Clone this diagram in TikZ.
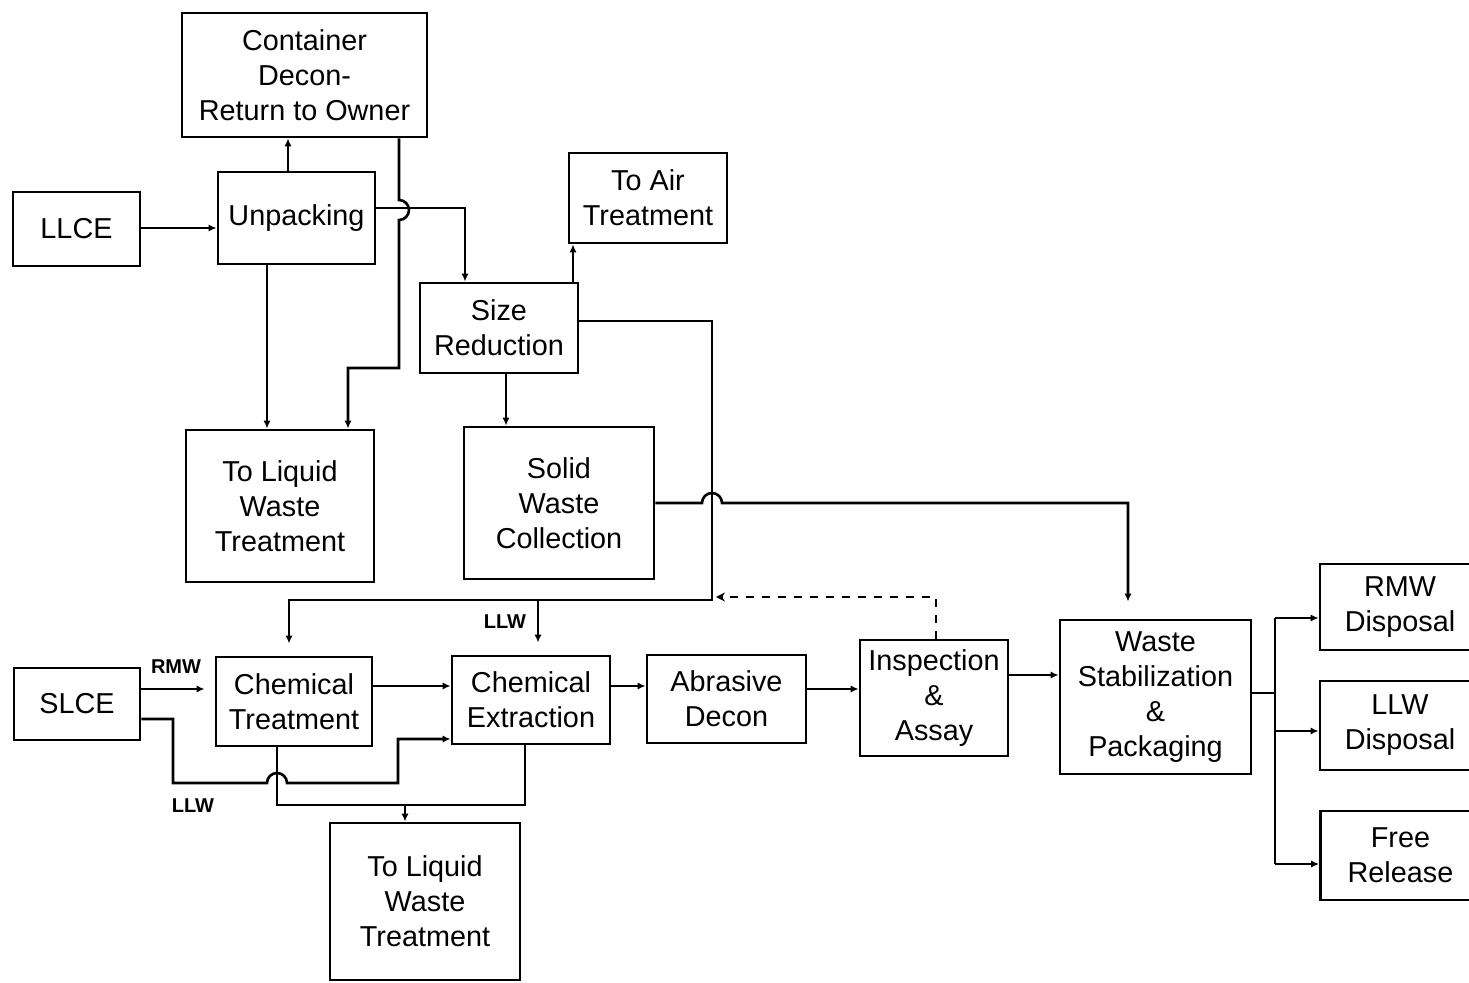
\documentclass[tikz,border=0pt]{standalone}
\usepackage{fontspec}
\setmainfont{Liberation Sans}
\usetikzlibrary{arrows.meta}
\begin{document}
\begin{tikzpicture}[x=0.5pt,y=-0.5pt,
  box/.style={draw, line width=1.4pt, inner sep=0pt, align=center,
    font=\fontsize{14.4}{17.5}\selectfont},
  lbl/.style={font=\fontsize{10}{12}\selectfont\bfseries, inner sep=0pt},
  conn/.style={line width=1.3pt},
  arr/.style={conn, -{Latex[length=4pt,width=3.6pt]}},
  darr/.style={conn, dash pattern=on 4pt off 4pt, -{Stealth[length=4.5pt,width=4.5pt]}}]
\useasboundingbox (0,0) rectangle (1469,983);
\fill[white] (0,0) rectangle (1469,983);

% boxes
\node[box, minimum width=122.5pt, minimum height=62pt] (cont) at (304.5,75) {Container\\Decon-\\Return to Owner};
\node[box, minimum width=63.5pt, minimum height=37pt] (llce) at (76.5,229) {LLCE};
\node[box, minimum width=78.5pt, minimum height=46pt] (unp) at (296.5,218) {Unpacking};
\node[box, minimum width=79pt, minimum height=45pt] (air) at (648,198) {To Air\\Treatment};
\node[box, minimum width=79pt, minimum height=45pt] (size) at (499,328) {Size\\Reduction};
\node[box, minimum width=94pt, minimum height=76pt] (liqa) at (280,506) {To Liquid\\Waste\\Treatment};
\node[box, minimum width=95pt, minimum height=76pt] (solid) at (559,503) {Solid\\Waste\\Collection};
\node[box, minimum width=63pt, minimum height=36pt] (slce) at (77,704) {SLCE};
\node[box, minimum width=78pt, minimum height=44.5pt] (ct) at (294,701.5) {Chemical\\Treatment};
\node[box, minimum width=79pt, minimum height=44pt] (ce) at (531,700) {Chemical\\Extraction};
\node[box, minimum width=79.5pt, minimum height=44pt] (ad) at (726.5,699) {Abrasive\\Decon};
\node[box, minimum width=74pt, minimum height=58pt] (ia) at (934,698) {Inspection\\\&\\Assay};
\node[box, minimum width=95.5pt, minimum height=77pt] (ws) at (1155.5,697) {Waste\\Stabilization\\\&\\Packaging};
\node[box, minimum width=80pt, minimum height=43pt] (rmw) at (1400,607) {RMW\\Disposal};
\node[box, minimum width=80pt, minimum height=44.5pt] (llwd) at (1400,725.5) {LLW\\Disposal};
\node[box, minimum width=80pt, minimum height=44.5pt] (free) at (1400.5,855.5) {Free\\Release};
\node[box, minimum width=95pt, minimum height=78.5pt] (liqb) at (425,901.5) {To Liquid\\Waste\\Treatment};

% labels
\node[lbl] (lrmw) at (176,667) {RMW};
\node[lbl] (lllwa) at (505,622) {LLW};
\node[lbl] (lllwb) at (193,806) {LLW};

% top part
\draw[arr] (llce.east |- 0,228) -- (unp.west |- 0,228);
\draw[arr] (unp.north -| 288,0) -- (cont.south -| 288,0);
\draw[arr] (cont.south -| 399,0) -- (399,200) arc[start angle=90, end angle=-90, radius=5pt]
  -- (399,368) -- (348,368) -- (liqa.north -| 348,0);
\draw[arr] (unp.east |- 0,208) -- (465,208) -- (size.north -| 465,0);
\draw[arr] (unp.south -| 267,0) -- (liqa.north -| 267,0);
\draw[arr] (size.north -| 573,0) -- (air.south -| 573,0);
\draw[arr] (size.south -| 506,0) -- (solid.north -| 506,0);

% size reduction to chemical steps
\coordinate (jct) at (538,600);
\draw[arr, shorten >=6pt] (size.east |- 0,321) -- (712,321) -- (712,600) -- (289,600) -- (ct.north -| 289,0);
\draw[arr, shorten >=6pt] (jct) -- (ce.north -| 538,0);

% solid waste to stabilization (hop)
\draw[arr, shorten >=8.5pt] (solid.east |- 0,503) -- (702,503) arc[start angle=180, end angle=0, radius=5pt]
  -- (1128,503) -- (ws.north -| 1128,0);

% dashed feedback
\coordinate (fb) at (716,597);
\draw[darr] (ia.north -| 936,0) -- (936,597) -- (fb);

% SLCE
\draw[arr, shorten >=5pt] (slce.east |- 0,689) -- (ct.west |- 0,689);
\draw[arr] (slce.east |- 0,719) -- (173,719) -- (173,783) -- (267,783)
  arc[start angle=180, end angle=0, radius=5pt] -- (398,783) -- (398,739) -- (ce.west |- 0,739);

% chemical chain
\draw[arr] (ct.east |- 0,686) -- (ce.west |- 0,686);
\draw[arr] (ce.east |- 0,686) -- (ad.west |- 0,686);
\draw[arr] (ad.east |- 0,689) -- (ia.west |- 0,689);
\draw[arr] (ia.east |- 0,675) -- (ws.west |- 0,675);

% to bottom liquid waste
\draw[conn] (ct.south -| 277,0) -- (277,805) -- (525,805) -- (ce.south -| 525,0);
\coordinate (jb) at (405,805);
\draw[arr] (jb) -- (liqb.north -| 405,0);

% outputs
\coordinate (split) at (1275,693);
\draw[conn] (ws.east |- 0,693) -- (split);
\draw[conn] (1275,618) -- (1275,864);
\draw[arr] (1275,618) -- (rmw.west |- 0,618);
\draw[arr] (1275,731) -- (llwd.west |- 0,731);
\draw[arr] (1275,864) -- (free.west |- 0,864);
\end{tikzpicture}
\end{document}
